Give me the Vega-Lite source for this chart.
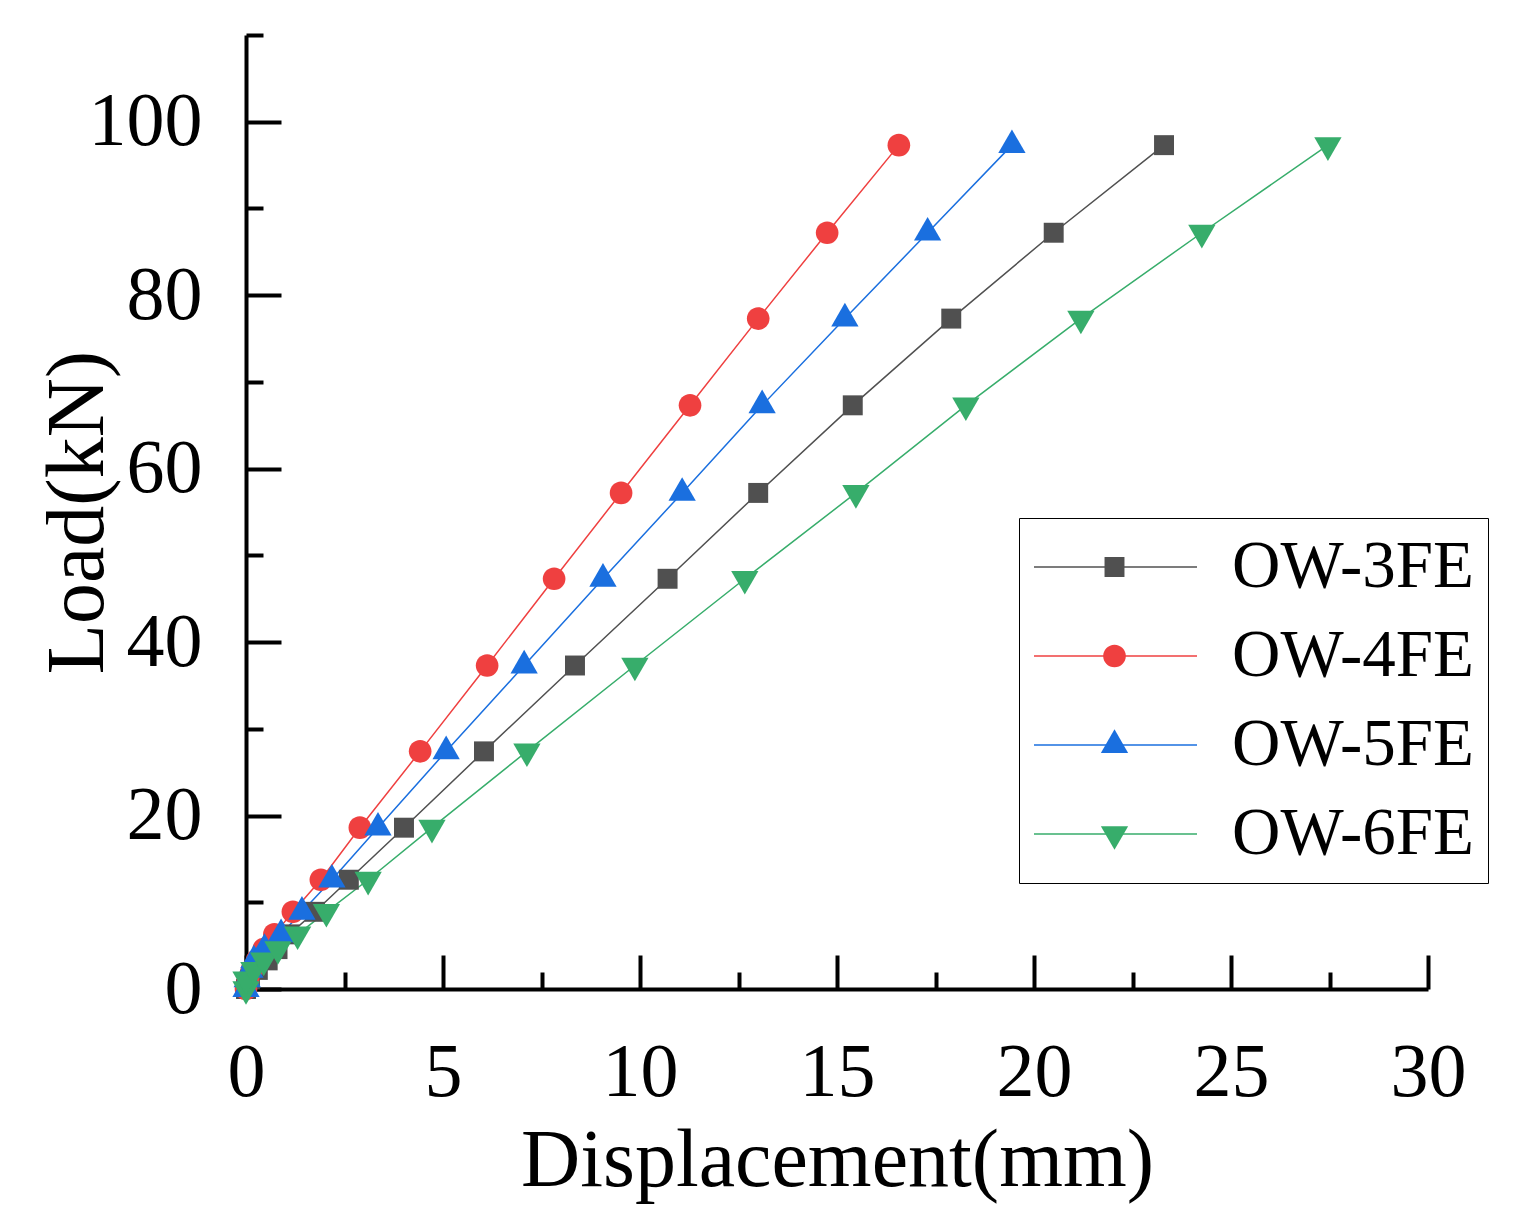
{
  "$schema": "https://vega.github.io/schema/vega-lite/v6.json",
  "width": 1182,
  "height": 954,
  "autosize": "none",
  "padding": {"left": 246, "top": 35, "right": 92, "bottom": 233},
  "background": "white",
  "config": {
    "view": {"stroke": null},
    "font": "Liberation Serif",
    "axis": {
      "domainColor": "black", "tickColor": "black", "labelColor": "black", "titleColor": "black",
      "domainWidth": 4, "tickWidth": 4, "grid": false,
      "labelFont": "Liberation Serif", "titleFont": "Liberation Serif", "titleFontWeight": "normal",
      "labelFlush": false, "labelOverlap": false
    }
  },
  "data": {
    "values": [
      {"s": "OW-3FE", "d": 0, "load": 0},
      {"s": "OW-3FE", "d": 0.1, "load": 1.1},
      {"s": "OW-3FE", "d": 0.3, "load": 2.2},
      {"s": "OW-3FE", "d": 0.55, "load": 3.3},
      {"s": "OW-3FE", "d": 0.8, "load": 4.6},
      {"s": "OW-3FE", "d": 1.1, "load": 6.3},
      {"s": "OW-3FE", "d": 1.75, "load": 8.9},
      {"s": "OW-3FE", "d": 2.61, "load": 12.6},
      {"s": "OW-3FE", "d": 4.01, "load": 18.6},
      {"s": "OW-3FE", "d": 6.04, "load": 27.4},
      {"s": "OW-3FE", "d": 8.35, "load": 37.3},
      {"s": "OW-3FE", "d": 10.7, "load": 47.3},
      {"s": "OW-3FE", "d": 13.0, "load": 57.2},
      {"s": "OW-3FE", "d": 15.4, "load": 67.3},
      {"s": "OW-3FE", "d": 17.9, "load": 77.3},
      {"s": "OW-3FE", "d": 20.5, "load": 87.2},
      {"s": "OW-3FE", "d": 23.3, "load": 97.3},
      {"s": "OW-4FE", "d": 0, "load": 0},
      {"s": "OW-4FE", "d": 0.05, "load": 1.1},
      {"s": "OW-4FE", "d": 0.15, "load": 2.2},
      {"s": "OW-4FE", "d": 0.28, "load": 3.3},
      {"s": "OW-4FE", "d": 0.45, "load": 4.6},
      {"s": "OW-4FE", "d": 0.72, "load": 6.3},
      {"s": "OW-4FE", "d": 1.19, "load": 8.9},
      {"s": "OW-4FE", "d": 1.9, "load": 12.6},
      {"s": "OW-4FE", "d": 2.89, "load": 18.6},
      {"s": "OW-4FE", "d": 4.42, "load": 27.4},
      {"s": "OW-4FE", "d": 6.12, "load": 37.3},
      {"s": "OW-4FE", "d": 7.82, "load": 47.3},
      {"s": "OW-4FE", "d": 9.52, "load": 57.2},
      {"s": "OW-4FE", "d": 11.27, "load": 67.3},
      {"s": "OW-4FE", "d": 13.0, "load": 77.3},
      {"s": "OW-4FE", "d": 14.75, "load": 87.2},
      {"s": "OW-4FE", "d": 16.57, "load": 97.3},
      {"s": "OW-5FE", "d": 0, "load": 0},
      {"s": "OW-5FE", "d": 0.03, "load": 1.1},
      {"s": "OW-5FE", "d": 0.1, "load": 2.2},
      {"s": "OW-5FE", "d": 0.2, "load": 3.3},
      {"s": "OW-5FE", "d": 0.47, "load": 4.6},
      {"s": "OW-5FE", "d": 0.89, "load": 6.3},
      {"s": "OW-5FE", "d": 1.42, "load": 8.9},
      {"s": "OW-5FE", "d": 2.18, "load": 12.6},
      {"s": "OW-5FE", "d": 3.35, "load": 18.6},
      {"s": "OW-5FE", "d": 5.08, "load": 27.4},
      {"s": "OW-5FE", "d": 7.06, "load": 37.3},
      {"s": "OW-5FE", "d": 9.06, "load": 47.3},
      {"s": "OW-5FE", "d": 11.07, "load": 57.2},
      {"s": "OW-5FE", "d": 13.1, "load": 67.3},
      {"s": "OW-5FE", "d": 15.2, "load": 77.3},
      {"s": "OW-5FE", "d": 17.3, "load": 87.2},
      {"s": "OW-5FE", "d": 19.44, "load": 97.3},
      {"s": "OW-6FE", "d": 0, "load": 0},
      {"s": "OW-6FE", "d": 0.0, "load": 1.1},
      {"s": "OW-6FE", "d": 0.2, "load": 2.2},
      {"s": "OW-6FE", "d": 0.45, "load": 3.3},
      {"s": "OW-6FE", "d": 0.81, "load": 4.6},
      {"s": "OW-6FE", "d": 1.31, "load": 6.3},
      {"s": "OW-6FE", "d": 2.04, "load": 8.9},
      {"s": "OW-6FE", "d": 3.1, "load": 12.6},
      {"s": "OW-6FE", "d": 4.72, "load": 18.6},
      {"s": "OW-6FE", "d": 7.13, "load": 27.4},
      {"s": "OW-6FE", "d": 9.87, "load": 37.3},
      {"s": "OW-6FE", "d": 12.66, "load": 47.3},
      {"s": "OW-6FE", "d": 15.48, "load": 57.2},
      {"s": "OW-6FE", "d": 18.27, "load": 67.3},
      {"s": "OW-6FE", "d": 21.19, "load": 77.3},
      {"s": "OW-6FE", "d": 24.26, "load": 87.2},
      {"s": "OW-6FE", "d": 27.46, "load": 97.3}
    ]
  },
  "layer": [
    {
      "mark": {"type": "line", "strokeWidth": 1.5},
      "encoding": {
        "x": {
          "field": "d", "type": "quantitative",
          "scale": {"domain": [0, 30], "nice": false, "zero": false},
          "axis": {
            "orient": "bottom", "values": [0, 5, 10, 15, 20, 25, 30],
            "title": "Displacement(mm)", "titleFontSize": 82,
            "titleBaseline": "alphabetic", "titleAlign": "center", "titleX": 591, "titleY": 196,
            "tickSize": -34, "labelFontSize": 76, "labelPadding": 80
          }
        },
        "y": {
          "field": "load", "type": "quantitative",
          "scale": {"domain": [0, 110], "nice": false, "zero": false},
          "axis": {
            "orient": "left", "values": [0, 20, 40, 60, 80, 100],
            "title": "Load(kN)", "titleFontSize": 82, "titleAngle": -90,
            "titleBaseline": "alphabetic", "titleAlign": "center", "titleX": -144, "titleY": 477,
            "ticks": false, "labelFontSize": 76, "labelPadding": 44
          }
        },
        "color": {
          "field": "s", "type": "nominal",
          "scale": {
            "domain": ["OW-3FE", "OW-4FE", "OW-5FE", "OW-6FE"],
            "range": ["#505050", "#EF4040", "#1A6FDF", "#37AD6B"]
          },
          "legend": {
            "title": null, "orient": "none", "legendX": 773, "legendY": 483,
            "labelFont": "Liberation Serif", "labelFontSize": 67, "labelColor": "black",
            "labelOffset": 34, "labelLimit": 600, "clipHeight": 70,
            "symbolType": "M-1,0H1", "symbolSize": 26569, "symbolStrokeWidth": 1.5,
            "symbolFillColor": "transparent",
            "rowPadding": 19, "padding": 14,
            "strokeColor": "black", "fillColor": "white"
          }
        }
      }
    },
    {
      "mark": {"type": "point", "filled": true, "opacity": 1, "size": 441, "strokeWidth": 0},
      "encoding": {
        "x": {
          "field": "d", "type": "quantitative",
          "axis": {
            "orient": "bottom", "values": [2.5, 7.5, 12.5, 17.5, 22.5, 27.5],
            "labels": false, "domain": false, "title": null, "tickSize": -17
          }
        },
        "y": {
          "field": "load", "type": "quantitative",
          "axis": {
            "orient": "left", "offset": -35,
            "values": [0, 20, 40, 60, 80, 100],
            "labels": false, "domain": false, "title": null, "tickSize": 35
          }
        },
        "fill": {
          "field": "s", "type": "nominal",
          "scale": {"range": ["#505050", "#EF4040", "#1A6FDF", "#37AD6B"]},
          "legend": {
            "title": null, "orient": "none", "legendX": 821, "legendY": 483,
            "labelFont": "Liberation Serif", "labelFontSize": 67, "labelOpacity": 0,
            "labelOffset": 34, "labelLimit": 600, "clipHeight": 70,
            "symbolSize": 441, "symbolStrokeWidth": 0, "symbolOpacity": 1,
            "rowPadding": 19, "padding": 14
          }
        },
        "shape": {
          "field": "s", "type": "nominal",
          "scale": {
            "range": [
              "M-0.95,-0.95H0.95V0.95H-0.95Z",
              "M1.08,0A1.08,1.08,0,1,1,-1.08,0A1.08,1.08,0,1,1,1.08,0Z",
              "M0,-1.5L1.3,0.75L-1.3,0.75Z",
              "M0,1.5L1.3,-0.75L-1.3,-0.75Z"
            ]
          },
          "legend": {
            "title": null, "orient": "none", "legendX": 821, "legendY": 483,
            "labelFont": "Liberation Serif", "labelFontSize": 67, "labelOpacity": 0,
            "labelOffset": 34, "labelLimit": 600, "clipHeight": 70,
            "symbolSize": 441, "symbolStrokeWidth": 0, "symbolOpacity": 1,
            "rowPadding": 19, "padding": 14
          }
        }
      }
    },
    {
      "mark": {"type": "point", "opacity": 0},
      "encoding": {
        "x": {"field": "d", "type": "quantitative", "axis": null},
        "y": {
          "field": "load", "type": "quantitative",
          "axis": {
            "orient": "left", "offset": -17,
            "values": [10, 30, 50, 70, 90, 110],
            "labels": false, "domain": false, "title": null, "tickSize": 17
          }
        }
      }
    }
  ],
  "resolve": {"axis": {"x": "independent", "y": "independent"}}
}
